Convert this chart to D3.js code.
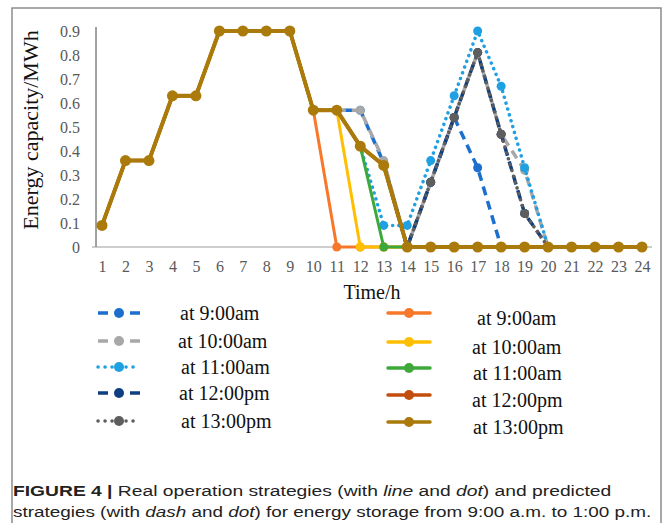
<!DOCTYPE html>
<html>
<head>
<meta charset="utf-8">
<script src="https://cdn.jsdelivr.net/npm/d3@7"></script>
<style>
  html, body { margin: 0; padding: 0; background: #fff; }
  svg { display: block; }
</style>
</head>
<body>
<div class="chart"></div>
<script>
// 데이터 (시간 1~24h, 값 MWh)
const hours = [1,2,3,4,5,6,7,8,9,10,11,12,13,14,15,16,17,18,19,20,21,22,23,24];
const yTicks = [0, 0.1, 0.2, 0.3, 0.4, 0.5, 0.6, 0.7, 0.8, 0.9];
const legendLabels = ['at 9:00am', 'at 10:00am', 'at 11:00am', 'at 12:00pm', 'at 13:00pm'];

// 실제 운영 (line and dot)
const real9  = [0.09,0.36,0.36,0.63,0.63,0.90,0.90,0.90,0.90,0.57,0,0,0,0,0,0,0,0,0,0,0,0,0,0];
const real10 = [0.09,0.36,0.36,0.63,0.63,0.90,0.90,0.90,0.90,0.57,0.57,0,0,0,0,0,0,0,0,0,0,0,0,0];
const real11 = [0.09,0.36,0.36,0.63,0.63,0.90,0.90,0.90,0.90,0.57,0.57,0.42,0,0,0,0,0,0,0,0,0,0,0,0];
const real12 = [0.09,0.36,0.36,0.63,0.63,0.90,0.90,0.90,0.90,0.57,0.57,0.42,0.34,0,0,0,0,0,0,0,0,0,0,0];
const real13 = [0.09,0.36,0.36,0.63,0.63,0.90,0.90,0.90,0.90,0.57,0.57,0.42,0.34,0,0,0,0,0,0,0,0,0,0,0];

// 예측 (dash and dot), null = 없음
const pred9  = [null,null,null,null,null,null,null,null,null,0.57,0.57,0.57,0.35,0,0.27,0.54,0.33,0,null,null,null,null,null,null];
const pred10 = [null,null,null,null,null,null,null,null,null,null,0.57,0.57,0.36,0,0.27,0.54,0.81,0.47,0.32,0,null,null,null,null];
const pred11 = [null,null,null,null,null,null,null,null,null,null,null,0.42,0.09,0.09,0.36,0.63,0.90,0.67,0.33,0,null,null,null,null];
const pred12 = [null,null,null,null,null,null,null,null,null,null,null,null,0.34,0,0.27,0.54,0.81,0.47,0.14,0,null,null,null,null];
const pred13 = [null,null,null,null,null,null,null,null,null,null,null,null,null,0,0.27,0.54,0.81,0.47,0.14,0,null,null,null,null];

/******************** 스타일 ********************/
const predSeries = [
  {values: pred9,  color: '#1c6fcc', dash: '9 6',   cap: 'butt',  width: 3.5},
  {values: pred10, color: '#a8a8a8', dash: '9 6',   cap: 'butt',  width: 3.5},
  {values: pred11, color: '#1ea0e2', dash: '0.1 6', cap: 'round', width: 3.5},
  {values: pred12, color: '#0f3f80', dash: '9 6',   cap: 'butt',  width: 3.5},
  {values: pred13, color: '#5e5e5e', dash: '0.1 6', cap: 'round', width: 3.5}
];
const realSeries = [
  {values: real9,  color: '#f7782a', width: 3},
  {values: real10, color: '#ffbf00', width: 3},
  {values: real11, color: '#3ea93a', width: 3},
  {values: real12, color: '#c24d0c', width: 3.5},
  {values: real13, color: '#aa7a0a', width: 4}
];

const W = 664, H = 523;
const serif = '"Liberation Serif", "Times New Roman", serif';

const svg = d3.select('.chart').append('svg')
  .attr('width', W)
  .attr('height', H);

// 외곽 프레임 (아래쪽은 열려 있음)
svg.append('path')
  .attr('d', `M12,${H} V8 H661 V${H}`)
  .attr('fill', 'none')
  .attr('stroke', '#8c8c8c')
  .attr('stroke-width', 1.5);

/******************** 스케일, 축 ********************/
const x = d3.scaleLinear([1, 24], [102, 642]);
const y = d3.scaleLinear([0, 0.9], [247, 31]);

// y축
svg.append('g')
  .attr('transform', 'translate(96,0)')
  .call(d3.axisLeft(y).tickValues(yTicks).tickSize(0).tickPadding(16)
    .tickFormat(d => d === 0 ? '0' : d.toFixed(1)))
  .call(g => g.select('.domain').attr('d', 'M0,27V247').attr('stroke', '#444'))
  .selectAll('text')
    .attr('font-family', serif)
    .attr('font-size', 16)
    .attr('fill', '#595959');

// x축
svg.append('g')
  .attr('transform', `translate(0,${y(0)})`)
  .call(d3.axisBottom(x).tickValues(hours).tickSize(0).tickPadding(14).tickFormat(d3.format('d')))
  .call(g => g.select('.domain').attr('d', 'M92,0H652').attr('stroke', '#9c9c9c'))
  .selectAll('text')
    .attr('font-family', serif)
    .attr('font-size', 16)
    .attr('fill', '#595959');

// 축 제목
svg.append('text')
  .attr('transform', 'translate(38,130) rotate(-90)')
  .attr('text-anchor', 'middle')
  .attr('font-family', serif)
  .attr('font-size', 22)
  .attr('fill', '#111')
  .text('Energy capacity/MWh');

svg.append('text')
  .attr('x', 372)
  .attr('y', 299)
  .attr('text-anchor', 'middle')
  .attr('font-family', serif)
  .attr('font-size', 20)
  .attr('fill', '#111')
  .text('Time/h');

/******************** 선 + 점 ********************/
const line = d3.line()
  .defined(d => d.v !== null)
  .x(d => x(d.h))
  .y(d => y(d.v));

function drawSeries(s, r) {
  const pts = hours.map((h, i) => ({h: h, v: s.values[i]}));
  const g = svg.append('g');
  g.append('path')
    .datum(pts)
    .attr('d', line)
    .attr('fill', 'none')
    .attr('stroke', s.color)
    .attr('stroke-width', s.width)
    .attr('stroke-dasharray', s.dash || null)
    .attr('stroke-linecap', s.cap || 'butt')
    .attr('stroke-linejoin', 'round');
  g.selectAll('circle')
    .data(pts.filter(d => d.v !== null))
    .join('circle')
      .attr('cx', d => x(d.h))
      .attr('cy', d => y(d.v))
      .attr('r', r)
      .attr('fill', s.color);
}

predSeries.forEach(s => drawSeries(s, 4.5));
realSeries.forEach(s => drawSeries(s, s.width >= 4 ? 5.5 : 4.5));

/******************** 범례 ********************/
function legendItem(s, cx, cy, tx, ty, label) {
  const g = svg.append('g');
  // 대시: 양쪽 끝에 짧은 선, 점선: 둥근 점
  let dash = null;
  if (s.dash) dash = s.cap === 'round' ? '0.1 6.9' : '10 22 10';
  g.append('line')
    .attr('x1', cx - 21).attr('x2', cx + 21)
    .attr('y1', cy).attr('y2', cy)
    .attr('stroke', s.color)
    .attr('stroke-width', 3.5)
    .attr('stroke-dasharray', dash)
    .attr('stroke-linecap', s.dash ? s.cap : 'round');
  g.append('circle')
    .attr('cx', cx).attr('cy', cy).attr('r', 5)
    .attr('fill', s.color);
  g.append('text')
    .attr('x', tx).attr('y', ty)
    .attr('font-family', serif)
    .attr('font-size', 20)
    .attr('fill', '#111')
    .text(label);
}

const leftRowY = [313, 341, 367, 393, 421];
const leftTextX = [180, 178, 181, 179, 181];
const rightRowY = [313, 342, 368, 395, 422];
const rightTextX = [477, 472, 473, 472, 473];

predSeries.forEach((s, i) => legendItem(s, 119, leftRowY[i], leftTextX[i], leftRowY[i] + 7, legendLabels[i]));
realSeries.forEach((s, i) => legendItem(s, 409, rightRowY[i], rightTextX[i], rightRowY[i] + 12, legendLabels[i]));

/******************** 캡션 ********************/
const sans = '"Liberation Sans", Arial, sans-serif';
const cap1 = svg.append('text')
  .attr('x', 13).attr('y', 496)
  .attr('font-family', sans)
  .attr('font-size', 15.5)
  .attr('fill', '#222');
cap1.append('tspan').attr('font-weight', 'bold').text('FIGURE 4 | ');
cap1.append('tspan').text('Real operation strategies (with ');
cap1.append('tspan').attr('font-style', 'italic').text('line');
cap1.append('tspan').text(' and ');
cap1.append('tspan').attr('font-style', 'italic').text('dot');
cap1.append('tspan').text(') and predicted');

const cap2 = svg.append('text')
  .attr('x', 13).attr('y', 517)
  .attr('font-family', sans)
  .attr('font-size', 15.5)
  .attr('fill', '#222');
cap2.append('tspan').text('strategies (with ');
cap2.append('tspan').attr('font-style', 'italic').text('dash');
cap2.append('tspan').text(' and ');
cap2.append('tspan').attr('font-style', 'italic').text('dot');
cap2.append('tspan').text(') for energy storage from 9:00 a.m. to 1:00 p.m.');

// 캡션 너비 맞추기
[[cap1, 599], [cap2, 639]].forEach(([t, w]) => {
  const bw = t.node().getBBox().width;
  const k = w / bw;
  t.attr('transform', `translate(${13 - 13 * k},0) scale(${k},1)`);
});
</script>
</body>
</html>
